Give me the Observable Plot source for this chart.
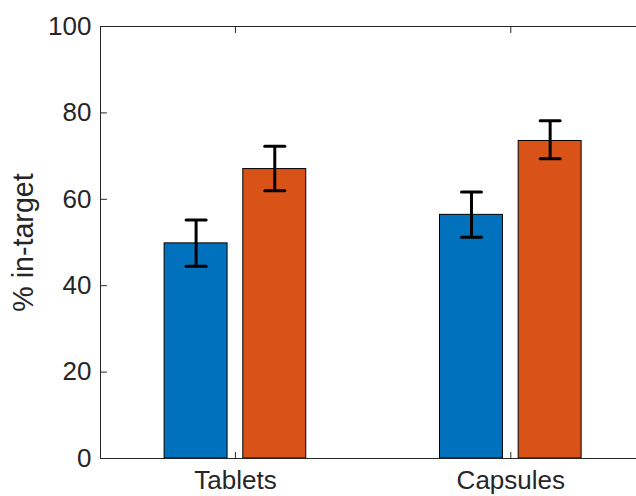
<!DOCTYPE html>
<html>
<head>
<meta charset="utf-8">
<script src="https://cdn.jsdelivr.net/npm/d3@7"></script>
<script src="https://cdn.jsdelivr.net/npm/@observablehq/plot@0.6"></script>
<style>
  html, body { margin: 0; padding: 0; background: #ffffff; overflow: hidden; }
  svg { display: block; }
</style>
</head>
<body>
<script>
// ---- data ----
const categories = ["Tablets", "Capsules"];
const seriesA = [49.8, 56.4];       // blue bars
const seriesB = [67.0, 73.5];       // orange bars
const lowerA = [44.5, 51.2];
const upperA = [55.2, 61.7];
const lowerB = [62.0, 69.4];
const upperB = [72.3, 78.2];
const yTicks = [0, 20, 40, 60, 80, 100];
const yLabel = "% in-target";

// ---- styles ----
const colors = ["#0072BD", "#D95319"];
const axisColor = "#262626";
const font = "'Liberation Sans', Arial, Helvetica, sans-serif";

// grouped bar layout (MATLAB-style)
const nSeries = 2;
const groupWidth = Math.min(0.8, nSeries / (nSeries + 1.5));
const barWidth = groupWidth / nSeries * 0.8;
const values = [seriesA, seriesB];
const lows = [lowerA, lowerB];
const highs = [upperA, upperB];

const table = [];
categories.forEach((c, i) => {
  for (let s = 0; s < nSeries; s++) {
    const center = (i + 1) + (s - (nSeries - 1) / 2) * groupWidth / nSeries;
    table.push({
      category: c, s, center,
      x1: center - barWidth / 2, x2: center + barWidth / 2,
      value: values[s][i], lo: lows[s][i], hi: highs[s][i]
    });
  }
});
const xTicks = categories.map((c, i) => i + 1);

const tickShape = { draw(ctx, l) { ctx.moveTo(0, 0); ctx.lineTo(0, -l); } };

const chart = Plot.plot({
  width: 636,
  height: 496,
  marginLeft: 100,
  marginTop: 26,
  marginBottom: 38,
  marginRight: 0,
  style: { fontFamily: font, fontSize: "26px", color: axisColor, background: "#ffffff" },
  x: { type: "linear", domain: [0.51, 2.5], range: [100, 648], axis: null },
  y: { domain: [0, 100], axis: null },
  marks: [
    Plot.rectY(table, {
      x1: "x1", x2: "x2", y1: 0, y2: "value",
      fill: d => colors[d.s], stroke: "#000000", strokeWidth: 1
    }),
    Plot.ruleX(table, { x: "center", y1: "lo", y2: "hi", stroke: "#000000", strokeWidth: 3 }),
    Plot.vector(table, { x: "center", y: "lo", length: 20, rotate: 90, anchor: "middle", shape: tickShape, stroke: "#000000", strokeWidth: 3 }),
    Plot.vector(table, { x: "center", y: "hi", length: 20, rotate: 90, anchor: "middle", shape: tickShape, stroke: "#000000", strokeWidth: 3 }),
    // axes box lines
    Plot.ruleY([0], { stroke: axisColor, strokeWidth: 1 }),
    Plot.ruleY([100], { stroke: axisColor, strokeWidth: 1 }),
    Plot.ruleX([0.51], { stroke: axisColor, strokeWidth: 1 }),
    // inward ticks
    Plot.vector(yTicks, { y: d => d, frameAnchor: "left", length: 6, rotate: 90, anchor: "start", shape: tickShape, stroke: axisColor, strokeWidth: 1 }),
    Plot.vector(xTicks, { x: d => d, frameAnchor: "bottom", length: 6, rotate: 0, anchor: "start", shape: tickShape, stroke: axisColor, strokeWidth: 1 }),
    Plot.vector(xTicks, { x: d => d, frameAnchor: "top", length: 6, rotate: 180, anchor: "start", shape: tickShape, stroke: axisColor, strokeWidth: 1 }),
    // tick labels
    Plot.axisY(yTicks, { anchor: "left", tickSize: 0, tickPadding: 9, label: null, fontSize: 26, fill: axisColor }),
    Plot.axisX(xTicks, { anchor: "bottom", tickSize: 0, tickPadding: 12, label: null, fontSize: 26, fill: axisColor, tickFormat: d => categories[d - 1] }),
    // y label
    Plot.text([yLabel], { frameAnchor: "left", dx: -68, rotate: -90, textAnchor: "middle", lineAnchor: "bottom", fontSize: 28.6, fill: axisColor, text: d => d })
  ]
});
document.body.appendChild(chart);
</script>
</body>
</html>
